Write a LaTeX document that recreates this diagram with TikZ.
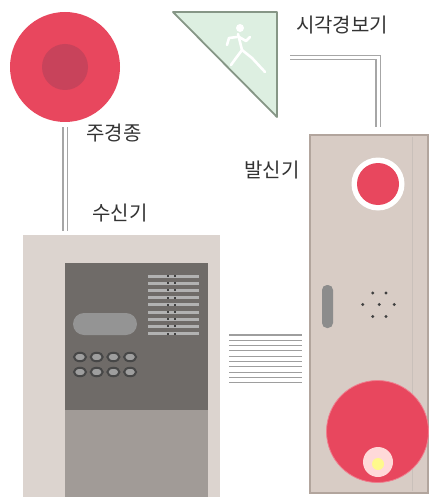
\documentclass[tikz,border=0pt]{standalone}
\usepackage{fontspec}
\usetikzlibrary{shapes.geometric}
\newfontfamily\kr{Noto Sans CJK KR}
\definecolor{bellred}{HTML}{E8475E}
\definecolor{bellcore}{HTML}{C8435B}
\definecolor{cabinet}{HTML}{DCD4CF}
\definecolor{panel}{HTML}{6F6B68}
\definecolor{panellow}{HTML}{A19B97}
\definecolor{housing}{HTML}{D8CCC5}
\definecolor{housingedge}{HTML}{B2A59D}
\definecolor{signgreen}{HTML}{DDEFE1}
\definecolor{signedge}{HTML}{869686}
\begin{document}
\begin{tikzpicture}[x=1pt,y=-1pt, every node/.style={font=\kr\fontsize{20}{22}\selectfont,text=black!80},
  wire/.style={draw=black!35,line width=1.2pt,double=white,double distance=3pt},
  bus/.style={draw=black!38,line width=1.1pt,shorten <=9pt,shorten >=8pt},
  part/.style={inner sep=0pt,outer sep=0pt},
  key/.style={draw=black!72,line width=2pt,fill=black!38,ellipse,minimum width=12pt,minimum height=8.5pt,inner sep=0pt}]
\useasboundingbox (0,0) rectangle (432,497);
% bell
\node[part,circle,fill=bellred,minimum size=110pt] (bell) at (65,67) {};
\node[part,circle,fill=bellcore,minimum size=46pt] (bellc) at (bell.center) {};
\node (lbell) at (114,133) {주경종};
% receiver cabinet
\node[part,fill=cabinet,minimum width=197pt,minimum height=262pt] (rcv) at (121.5,366) {};
\node[part,fill=panel,minimum width=143pt,minimum height=147pt] (pnl) at (136.5,336.5) {};
\node[part,fill=panellow,minimum width=143pt,minimum height=87pt] (door) at (136.5,453.5) {};
\node[part,fill=black!42,rounded corners=11pt,minimum width=64pt,minimum height=22pt] (lcd) at (105,324) {};
\foreach \i in {0,...,3} {
  \node[key] (ka\i) at (80+16.7*\i,357) {};
  \node[key] (kb\i) at (80+16.7*\i,372) {};
}
\foreach \r in {0,...,8} {
  \fill[black!30] (148,274.5+7.2*\r) rectangle (199,277.5+7.2*\r);
  \fill[black!75] (166.5,275+7.2*\r) rectangle (168.5,277+7.2*\r);
  \fill[black!75] (173.5,275+7.2*\r) rectangle (175.5,277+7.2*\r);
}
\node (lrcv) at (120,213) {수신기};
\draw[wire,shorten <=5pt,shorten >=4pt] (bell.south) -- (bell.south |- rcv.north);
% visual alarm sign
\filldraw[fill=signgreen,draw=signedge,line width=1.8pt,line join=round] (173,12) -- (277,12) -- (277,117) -- cycle;
\begin{scope}[white,line width=2.6pt,line cap=round,line join=round]
  \fill (240,28) circle (4);
  \draw (238,34) -- (242,50);
  \draw (237,37) -- (229,38) -- (227,45);
  \draw (239,37) -- (246,41) -- (250,37);
  \draw (242,50) -- (252,58) -- (265,72);
  \draw (242,50) -- (236,58) -- (231,65);
\end{scope}
\coordinate (sign) at (290,57.5);
\node (lsign) at (342,25) {시각경보기};
% transmitter
\node[part,fill=housing,draw=housingedge,line width=1.5pt,minimum width=118pt,minimum height=358pt] (trn) at (369,314) {};
\draw[housingedge!70,line width=0.8pt] (412,137) -- (412,491);
\node[part,circle,fill=white,minimum size=53pt] (btnring) at (378,184) {};
\node[part,circle,fill=bellred,minimum size=42pt] (btn) at (btnring.center) {};
\node[part,fill=black!45,rounded corners=5pt,minimum width=11pt,minimum height=43pt] (hdl) at (327.5,306.5) {};
\foreach \p in {(372.7,293),(386,293),(362.7,304.5),(379.3,304.5),(394.3,304.5),(372.7,316.5),(386,316.5)}
  \fill[black!75] \p circle (1.6);
\node[part,circle,fill=bellred,draw=bellred!70!white,line width=0.8pt,minimum size=102pt] (bigbtn) at (377.5,431.5) {};
\node[part,circle,fill=red!15,minimum size=30pt] (lamp) at (378,462) {};
\node[part,circle,fill=yellow!45,minimum size=12pt] (lampc) at (378,464) {};
\node (ltrn) at (272,170) {발신기};
\draw[wire,shorten >=8pt] (sign) -| (btn |- trn.north);
% bus between cabinets
\foreach \y in {335,340.3,...,384} \draw[bus] (rcv.east |- 0,\y) -- (trn.west |- 0,\y);
\end{tikzpicture}
\end{document}
